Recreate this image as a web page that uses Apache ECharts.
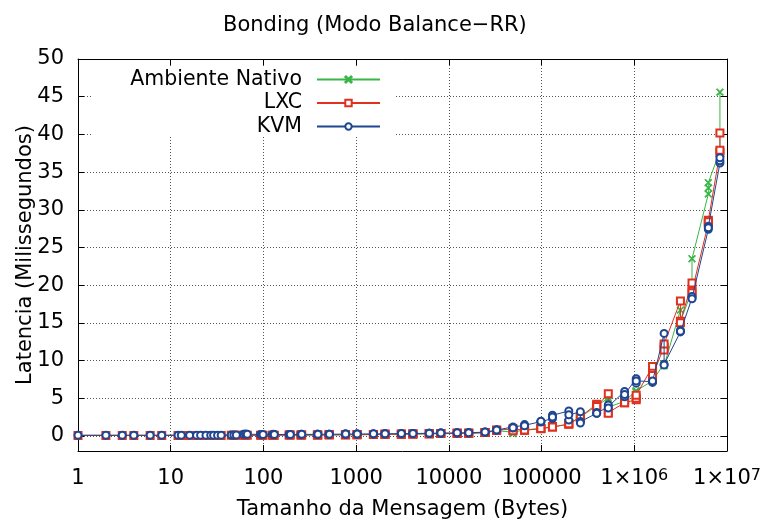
<!DOCTYPE html>
<html><head><meta charset="utf-8">
<script src="https://cdn.jsdelivr.net/npm/echarts@6/dist/echarts.min.js"></script>
<style>html,body{margin:0;padding:0;background:#fff}#c{width:764px;height:522px}</style>
</head><body><div id="c"></div>
<script>
// Message sizes (bytes)
const sizes = [1,2,3,4,6,8,12,13,16,19,21,24,27,29,32,35,45,48,51,61,64,67,
  93,96,99,125,128,131,189,192,195,253,256,259,381,384,387,509,512,515,765,768,771,
  1021,1024,1027,1533,1536,1539,2045,2048,2051,3069,3072,3075,4093,4096,4099,
  6141,6144,6147,8189,8192,8195,12285,12288,12291,16381,16384,16387,
  24573,24576,24579,32765,32768,32771,49149,49152,49155,65533,65536,65539,
  98301,98304,98307,131069,131072,131075,196605,196608,196611,262141,262144,262147,
  393213,393216,393219,524285,524288,524291,786429,786432,786435,
  1048573,1048576,1048579,1572861,1572864,1572867,2097149,2097152,2097155,
  3145725,3145728,3145731,4194301,4194304,4194307,6291453,6291456,6291459,
  8388605,8388608,8388611];

// Latency (ms)
const nativo = [0.06,0.06,0.06,0.06,0.06,0.06,0.06,0.06,0.06,0.06,0.06,0.06,0.06,0.06,0.06,0.06,0.07,0.07,0.07,0.07,0.07,0.07,
  0.08,0.08,0.08, 0.09,0.09,0.09, 0.1,0.1,0.1, 0.1,0.1,0.11, 0.12,0.12,0.12, 0.13,0.13,0.13, 0.15,0.15,0.15,
  0.16,0.16,0.17, 0.18,0.18,0.18, 0.2,0.2,0.2, 0.22,0.22,0.23, 0.25,0.25,0.25,
  0.28,0.29,0.29, 0.3,0.31,0.31, 0.32,0.33,0.33, 0.34,0.35,0.35,
  0.42,0.43,0.43, 0.7,0.72,0.73, 0.5,0.3,0.35, 0.8,0.75,0.85,
  1.0,1.0,1.05, 1.2,1.25,1.2, 1.55,1.6,1.6, 2.5,2.6,2.4,
  4.0,4.1,3.9, 5.0,4.6,3.8, 4.6,4.5,4.6,
  6.0,5.8,5.9, 7.3,7.4,7.5, 9.6,9.5,9.3,
  16.7,14.4,15.2, 19.3,19.5,23.5, 32.1,32.9,33.6,
  37.8,38.0,45.6];
const lxc = [0.07,0.07,0.07,0.07,0.07,0.07,0.07,0.07,0.07,0.07,0.07,0.07,0.07,0.07,0.07,0.07,0.08,0.08,0.08,0.08,0.08,0.08,
  0.09,0.09,0.09, 0.1,0.1,0.1, 0.11,0.11,0.11, 0.12,0.12,0.12, 0.13,0.13,0.13, 0.14,0.14,0.14, 0.16,0.16,0.16,
  0.17,0.17,0.18, 0.19,0.19,0.2, 0.21,0.21,0.21, 0.23,0.23,0.24, 0.26,0.26,0.26,
  0.29,0.3,0.3, 0.32,0.32,0.33, 0.34,0.34,0.35, 0.36,0.37,0.37,
  0.45,0.46,0.46, 0.74,0.75,0.76, 0.95,0.75,0.7, 0.75,0.8,0.8,
  0.95,1.0,1.0, 1.2,1.25,1.2, 1.55,1.6,1.6, 2.55,2.4,2.5,
  4.2,4.0,3.9, 5.6,3.1,3.0, 4.4,4.7,4.4,
  4.8,5.0,5.4, 9.2,8.3,8.0, 11.8,11.4,12.2,
  17.9,15.2,15.0, 20.3,19.2,19.0, 28.2,28.6,28.4,
  37.6,37.9,40.2];
const kvm = [0.09,0.09,0.09,0.09,0.09,0.09,0.1,0.1,0.1,0.1,0.1,0.1,0.1,0.1,0.1,0.1,0.12,0.12,0.12,0.22,0.25,0.22,
  0.2,0.2,0.19, 0.2,0.21,0.2, 0.19,0.2,0.2, 0.2,0.21,0.21, 0.21,0.22,0.22, 0.22,0.23,0.23, 0.24,0.24,0.25,
  0.25,0.26,0.26, 0.27,0.27,0.28, 0.28,0.29,0.29, 0.3,0.3,0.31, 0.32,0.32,0.33,
  0.35,0.36,0.36, 0.38,0.39,0.39, 0.4,0.41,0.41, 0.42,0.43,0.43,
  0.5,0.51,0.51, 0.78,0.79,0.8, 1.2,1.05,1.1, 1.4,1.5,1.35,
  1.9,1.85,1.95, 2.3,2.75,2.5, 3.3,2.1,2.8, 3.2,1.9,1.7,
  3.0,3.1,3.0, 3.9,4.1,3.7, 5.9,5.2,5.5,
  7.6,7.0,7.3, 7.2,7.1,7.3, 13.6,9.5,9.4,
  13.8,14.0,13.9, 18.3,18.5,18.2, 27.4,27.8,27.6,
  36.2,36.5,36.9];

const seriesNames = ['Ambiente Nativo', 'LXC', 'KVM'];
const yTicks = [0,5,10,15,20,25,30,35,40,45,50];

const FONT = 'DejaVu Sans';
const FS = 21;
const colors = ['#38b545', '#e0301e', '#1f4690'];
const xSymbol = 'path://M0,1L1,0L5,4L9,0L10,1L6,5L10,9L9,10L5,6L1,10L0,9L4,5Z';
const symbols = [xSymbol, 'emptyRect', 'emptyCircle'];
const values = [nativo, lxc, kvm];

const chart = echarts.init(document.getElementById('c'), null, {renderer: 'canvas'});
const grid = {left: 78, right: 37, top: 59, bottom: 71, containLabel: false, outerBoundsMode: 'none'};
const gridLine = {show: true, lineStyle: {color: '#555', type: [1, 2], width: 1}};
const frame = {show: true, onZero: false, lineStyle: {color: '#000', width: 1}};
const tick = {show: true, inside: true, length: 6, lineStyle: {color: '#000', width: 1}};

const option = {
  animation: false,
  backgroundColor: '#fff',
  title: {
    text: 'Bonding (Modo Balance−RR)',
    left: 223, top: 15, padding: 0,
    textStyle: {fontFamily: FONT, fontSize: FS, fontWeight: 'normal', color: '#000'}
  },
  grid: grid,
  legend: seriesNames.map((n, i) => ({
    data: [n], orient: 'horizontal', align: 'right', right: 383, top: [69, 92.5, 116][i],
    padding: 0, itemWidth: 63, itemHeight: 8, selectedMode: false,
    textStyle: {fontFamily: FONT, fontSize: 20.5, color: '#000', padding: [0, 10, 0, 0]}
  })),
  graphic: [{
    type: 'rect', z: 3, silent: true,
    shape: {x: 92, y: 66, width: 303, height: 71},
    style: {fill: '#fff'}
  }],
  xAxis: [{
    type: 'log', logBase: 10, min: 1, max: 10000000, position: 'bottom',
    name: 'Tamanho da Mensagem (Bytes)', nameLocation: 'middle', nameGap: 48, nameMoveOverlap: false,
    nameTextStyle: {fontFamily: FONT, fontSize: FS, color: '#000'},
    axisLine: frame, axisTick: tick, splitLine: gridLine, minorTick: {show: false},
    axisLabel: {
      show: true, margin: 17, color: '#000', fontFamily: FONT, fontSize: FS,
      showMinLabel: true, showMaxLabel: true,
      formatter: function (v) {
        const e = Math.round(Math.log10(v));
        return e >= 6 ? '1×10{s|' + e + '}' : String(Math.round(v));
      },
      rich: {s: {fontFamily: FONT, fontSize: 16, lineHeight: 6, verticalAlign: 'top', color: '#000'}}
    }
  }, {
    type: 'log', logBase: 10, min: 1, max: 10000000, position: 'top',
    axisLine: frame, axisTick: tick, splitLine: {show: false}, axisLabel: {show: false}
  }],
  yAxis: [{
    type: 'value', min: -2, max: 50, position: 'left',
    name: 'Latencia (Milissegundos)', nameLocation: 'middle', nameGap: 42, nameMoveOverlap: false,
    nameTextStyle: {fontFamily: FONT, fontSize: FS, color: '#000'},
    axisLine: frame,
    axisTick: Object.assign({customValues: yTicks}, tick),
    splitLine: gridLine,
    axisLabel: {customValues: yTicks, margin: 14, color: '#000', fontFamily: FONT, fontSize: FS}
  }, {
    type: 'value', min: -2, max: 50, position: 'right',
    axisLine: frame,
    axisTick: Object.assign({customValues: yTicks}, tick),
    splitLine: {show: false},
    axisLabel: {show: false, customValues: yTicks}
  }],
  series: seriesNames.map((n, i) => ({
    name: n, type: 'line', xAxisIndex: 0, yAxisIndex: 0,
    data: sizes.map((s, k) => [s, values[i][k]]),
    symbol: symbols[i], symbolSize: 7, showAllSymbol: true,
    lineStyle: {color: colors[i], width: 1},
    itemStyle: {color: colors[i], borderColor: colors[i], borderWidth: 1},
    emphasis: {disabled: true}, z: 2 + i * 0.1
  }))
};
chart.setOption(option);
</script></body></html>
